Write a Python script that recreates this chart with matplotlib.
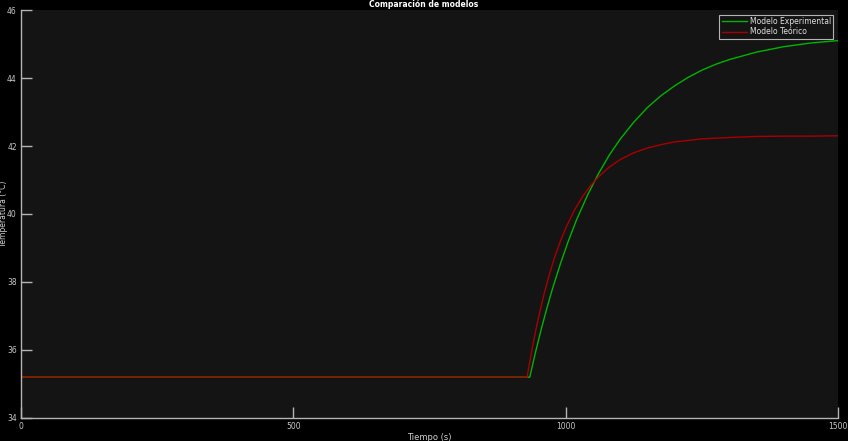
import numpy as np
import matplotlib
matplotlib.use('Agg')
import matplotlib.pyplot as plt

# valores (tiempo en s, temperatura en °C)
t_exp = [0, 934, 945, 955, 965, 975, 990, 1005, 1020, 1040, 1060, 1080, 1100,
         1125, 1150, 1175, 1200, 1225, 1250, 1275, 1300, 1350, 1400, 1450, 1500]
T_exp = [35.2, 35.2, 35.96, 36.60, 37.20, 37.76, 38.52, 39.21, 39.83, 40.55, 41.18,
         41.73, 42.20, 42.70, 43.13, 43.48, 43.77, 44.02, 44.23, 44.40, 44.54,
         44.76, 44.92, 45.03, 45.10]

t_teo = [0, 929, 940, 950, 960, 970, 980, 990, 1000, 1015, 1030, 1045, 1060,
         1080, 1100, 1125, 1150, 1175, 1200, 1250, 1300, 1350, 1400, 1450, 1500]
T_teo = [35.2, 35.2, 36.18, 36.95, 37.63, 38.22, 38.74, 39.19, 39.58, 40.08, 40.49,
         40.82, 41.09, 41.38, 41.60, 41.80, 41.94, 42.04, 42.12, 42.21, 42.25,
         42.28, 42.29, 42.29, 42.30]

xticks = [0, 500, 1000, 1500]
yticks = [34, 36, 38, 40, 42, 44, 46]

fig = plt.figure(figsize=(8.48, 4.41), dpi=100, facecolor='black')
ax = fig.add_axes([0.0248, 0.0522, 0.9634, 0.9251], facecolor='#141414')

ax.plot(t_exp, T_exp, color='#00b400', lw=1.0, label='Modelo Experimental')
ax.plot(t_teo, T_teo, color='#a80000', lw=1.0, label='Modelo Teórico')

ax.set_xlim(0, 1500)
ax.set_ylim(34, 46)
ax.set_xticks(xticks)
ax.set_yticks(yticks)

for s in ['top', 'right']:
    ax.spines[s].set_visible(False)
for s in ['left', 'bottom']:
    ax.spines[s].set_color('#b4b4b4')
    ax.spines[s].set_linewidth(1.0)

ax.tick_params(direction='in', length=8, width=1, colors='#b4b4b4',
               labelsize=5.5, labelcolor='#c8c8c8', pad=3)

# titulo y etiquetas
fig.text(0.5, 0.991, 'Comparación de modelos', color='white', fontsize=5.5,
         fontweight='bold', ha='center', va='center')
ax.set_xlabel('Tiempo (s)', color='#d0d0d0', fontsize=6, labelpad=1)
ax.set_ylabel('Temperatura (°C)', color='#d0d0d0', fontsize=5.5)
ax.yaxis.set_label_coords(-0.0155, 0.5)

leg = ax.legend(loc='upper right', fontsize=5.5, frameon=True, fancybox=False,
                borderaxespad=0.6, handlelength=3.3, handletextpad=0.4,
                borderpad=0.3, labelspacing=0.2)
leg.get_frame().set_facecolor('#141414')
leg.get_frame().set_edgecolor('#b4b4b4')
leg.get_frame().set_linewidth(0.8)
leg.get_frame().set_alpha(1)
for txt in leg.get_texts():
    txt.set_color('#e0e0e0')

fig.savefig('out.png', dpi=100, facecolor='black')
